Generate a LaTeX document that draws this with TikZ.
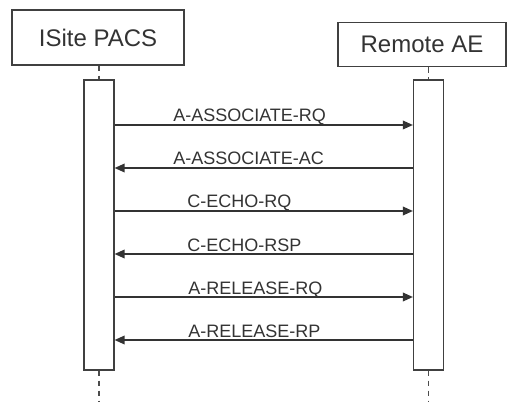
\documentclass[tikz,border=0pt]{standalone}
\usepackage{fontspec}
\setmainfont{Liberation Sans}
\usetikzlibrary{arrows.meta,positioning}

\begin{document}
\begin{tikzpicture}[
  x=0.75pt,y=-0.75pt,
  every node/.style={align=center,text=black!80},
  box/.style={draw=black!75,line width=0.9pt,font=\fontsize{18}{20}\selectfont},
  bar/.style={draw=black!75,line width=0.9pt,minimum width=22.5pt,minimum height=217.5pt,inner sep=0pt},
  life/.style={draw=black!70,line width=0.9pt,dash pattern=on 4pt off 3.5pt},
  msg/.style={-{Triangle[length=7.5pt,width=6.5pt]},draw=black!80,line width=1pt},
  lbl/.style={anchor=base west,font=\fontsize{13.5}{15}\selectfont,inner sep=0pt}
]
\useasboundingbox (0,0) rectangle (509,402);

% ============================================================
% PARTICIPANTS
% ============================================================

\node[box,minimum width=129pt,minimum height=41.25pt] (PACS) at (98,37.5) {ISite PACS};
\node[box,minimum width=126pt,minimum height=33pt] (RAE) at (422,44.7) {Remote AE};

\node[bar] (PACSbar) at (99,225) {};
\node[bar] (RAEbar) at (428.5,225) {};

\coordinate (PACSend) at (99,402);
\coordinate (RAEend) at (428.5,402);

\draw[life] (PACSbar.north |- PACS.south) -- (PACSbar.north);
\draw[life] (RAEbar.north |- RAE.south) -- (RAEbar.north);
\draw[life] (PACSbar.south) -- (PACSend);
\draw[life] (RAEbar.south) -- (RAEend);

% ============================================================
% MESSAGES
% ============================================================

\coordinate (m1) at (0,125);
\coordinate (m2) at (0,168);
\coordinate (m3) at (0,211);
\coordinate (m4) at (0,254);
\coordinate (m5) at (0,297);
\coordinate (m6) at (0,340);

\draw[msg] (PACSbar.east |- m1) -- (RAEbar.west |- m1);
\draw[msg] (RAEbar.west |- m2) -- (PACSbar.east |- m2);
\draw[msg] (PACSbar.east |- m3) -- (RAEbar.west |- m3);
\draw[msg] (RAEbar.west |- m4) -- (PACSbar.east |- m4);
\draw[msg] (PACSbar.east |- m5) -- (RAEbar.west |- m5);
\draw[msg] (RAEbar.west |- m6) -- (PACSbar.east |- m6);

\node[lbl] (l1) at (173,122) {A-ASSOCIATE-RQ};
\node[lbl] (l2) at (173,165) {A-ASSOCIATE-AC};
\node[lbl] (l3) at (187,208) {C-ECHO-RQ};
\node[lbl] (l4) at (187,251) {C-ECHO-RSP};
\node[lbl] (l5) at (188,294) {A-RELEASE-RQ};
\node[lbl] (l6) at (188,337) {A-RELEASE-RP};

\end{tikzpicture}
\end{document}
